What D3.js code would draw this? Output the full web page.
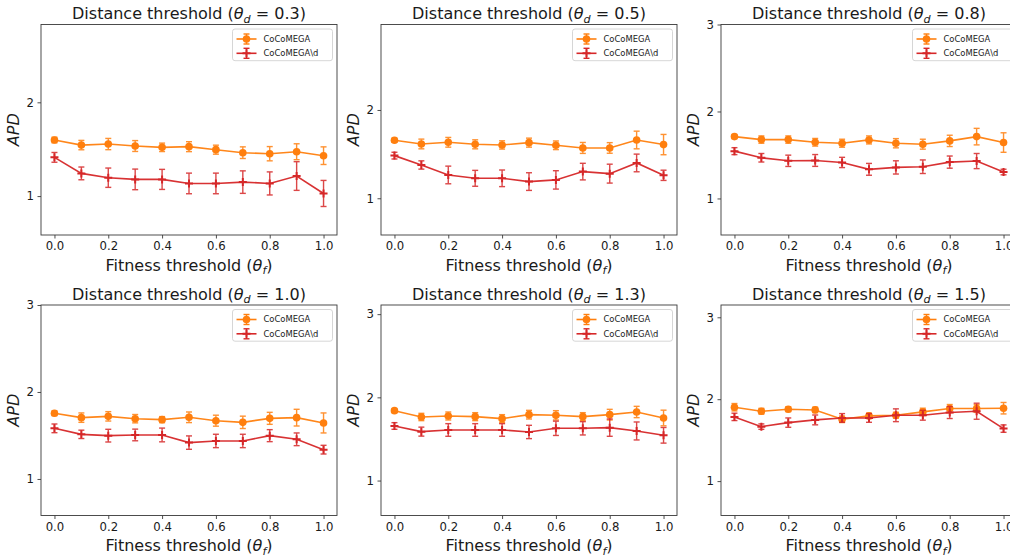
<!DOCTYPE html>
<html>
<head>
<meta charset="utf-8">
<script src="https://cdn.jsdelivr.net/npm/d3@7"></script>
<style>
  html, body { margin: 0; padding: 0; background: #fff; }
  svg { display: block; font-family: "DejaVu Sans", sans-serif; }
</style>
</head>
<body>
<script>
// ---------------- DATA ----------------
const fitnessThresholds = [0.0, 0.1, 0.2, 0.3, 0.4, 0.5, 0.6, 0.7, 0.8, 0.9, 1.0];
const xTickValues = [0.0, 0.2, 0.4, 0.6, 0.8, 1.0];
const yTickValues = [1, 2, 3];
const distanceThresholds = ["0.3", "0.5", "0.8", "1.0", "1.3", "1.5"];
const seriesNames = ["CoCoMEGA", "CoCoMEGA\\d"];
const yDomains = [[0.585, 2.83], [0.584, 2.968], [0.58, 3.0], [0.58, 3.0], [0.58, 3.11], [0.58, 3.15]];

// CoCoMEGA mean / error per panel
const cocomegaMean = [
  [1.598, 1.544, 1.555, 1.534, 1.520, 1.527, 1.495, 1.463, 1.452, 1.473, 1.431],
  [1.657, 1.615, 1.634, 1.611, 1.604, 1.630, 1.600, 1.570, 1.570, 1.660, 1.608],
  [1.711, 1.677, 1.677, 1.646, 1.635, 1.673, 1.635, 1.624, 1.662, 1.711, 1.643],
  [1.755, 1.705, 1.720, 1.693, 1.682, 1.709, 1.670, 1.651, 1.697, 1.705, 1.644],
  [1.840, 1.764, 1.776, 1.768, 1.744, 1.792, 1.784, 1.768, 1.792, 1.824, 1.752],
  [1.902, 1.853, 1.878, 1.869, 1.755, 1.796, 1.804, 1.845, 1.886, 1.886, 1.890]
];
const cocomegaErr = [
  [0.030, 0.050, 0.060, 0.058, 0.045, 0.053, 0.048, 0.062, 0.076, 0.085, 0.094],
  [0.023, 0.055, 0.055, 0.051, 0.047, 0.051, 0.049, 0.062, 0.060, 0.100, 0.115],
  [0.023, 0.042, 0.042, 0.044, 0.046, 0.046, 0.053, 0.057, 0.065, 0.095, 0.112],
  [0.027, 0.054, 0.054, 0.048, 0.035, 0.061, 0.063, 0.071, 0.069, 0.096, 0.115],
  [0.024, 0.044, 0.048, 0.048, 0.048, 0.052, 0.056, 0.048, 0.064, 0.068, 0.094],
  [0.045, 0.035, 0.030, 0.033, 0.040, 0.033, 0.037, 0.045, 0.049, 0.047, 0.070]
];
// CoCoMEGA\d mean / error per panel
const ablationMean = [
  [1.413, 1.242, 1.196, 1.178, 1.178, 1.135, 1.135, 1.149, 1.135, 1.214, 1.028],
  [1.483, 1.377, 1.264, 1.226, 1.226, 1.189, 1.208, 1.302, 1.279, 1.400, 1.260],
  [1.544, 1.468, 1.433, 1.437, 1.414, 1.335, 1.357, 1.365, 1.418, 1.430, 1.304],
  [1.582, 1.513, 1.498, 1.506, 1.506, 1.418, 1.437, 1.437, 1.498, 1.456, 1.337],
  [1.656, 1.588, 1.608, 1.608, 1.608, 1.584, 1.628, 1.628, 1.636, 1.596, 1.544],
  [1.784, 1.665, 1.714, 1.747, 1.771, 1.771, 1.804, 1.804, 1.837, 1.853, 1.641]
];
const ablationErr = [
  [0.052, 0.068, 0.103, 0.110, 0.107, 0.110, 0.110, 0.120, 0.123, 0.153, 0.139],
  [0.038, 0.047, 0.100, 0.090, 0.094, 0.100, 0.104, 0.094, 0.107, 0.100, 0.058],
  [0.040, 0.049, 0.065, 0.068, 0.059, 0.068, 0.076, 0.078, 0.070, 0.087, 0.032],
  [0.050, 0.048, 0.073, 0.067, 0.079, 0.077, 0.077, 0.077, 0.069, 0.073, 0.050],
  [0.040, 0.054, 0.076, 0.076, 0.076, 0.080, 0.086, 0.080, 0.104, 0.108, 0.094],
  [0.045, 0.033, 0.057, 0.060, 0.053, 0.053, 0.078, 0.060, 0.073, 0.098, 0.045]
];

// ---------------- LAYOUT ----------------
const colLeft = [41, 381, 721];
const rowTop = [24.5, 305];
const W = 296, H = 210.5;
const colors = ["#ff7f0e", "#d62728"];
const textColor = "#1a1a1a";
const spineColor = "#3a3a3a";

const svg = d3.select("body").append("svg").attr("width", 1010).attr("height", 559);

function mathLabel(sel, prefix, sym, sub, suffix, size) {
  sel.append("tspan").text(prefix);
  sel.append("tspan").attr("font-style", "italic").text(sym);
  sel.append("tspan").attr("font-style", "italic").attr("font-size", size * 0.7).attr("dy", size * 0.22).text(sub);
  sel.append("tspan").attr("dy", -size * 0.22).text(suffix);
}

function plusPath(cx, cy, r) {
  return `M${cx - r},${cy}H${cx + r}M${cx},${cy - r}V${cy + r}`;
}

distanceThresholds.forEach((td, i) => {
  const left = colLeft[i % 3], top = rowTop[Math.floor(i / 3)];
  const g = svg.append("g").attr("transform", `translate(${left},${top})`);
  const x = d3.scaleLinear().domain([-0.05, 1.05]).range([0, W]);
  const y = d3.scaleLinear().domain(yDomains[i]).range([H, 0]);

  // axes
  const xAxis = g.append("g").attr("transform", `translate(0,${H})`)
    .call(d3.axisBottom(x).tickValues(xTickValues).tickFormat(d3.format(".1f")).tickSize(3.5).tickPadding(3.5));
  const yAxis = g.append("g")
    .call(d3.axisLeft(y).tickValues(yTickValues.filter(v => v >= yDomains[i][0] && v <= yDomains[i][1]))
      .tickFormat(d3.format("d")).tickSize(3.5).tickPadding(3.5));
  [xAxis, yAxis].forEach(a => {
    a.select(".domain").remove();
    a.selectAll(".tick line").attr("stroke", spineColor).attr("stroke-width", 0.9);
    a.selectAll(".tick text").attr("fill", textColor).attr("font-size", 11.7).attr("font-family", "DejaVu Sans");
  });

  // series
  const seriesMeans = [cocomegaMean[i], ablationMean[i]];
  const seriesErrs = [cocomegaErr[i], ablationErr[i]];
  seriesMeans.forEach((means, s) => {
    const errs = seriesErrs[s];
    const col = colors[s];
    const pts = fitnessThresholds.map((fx, k) => ({ x: fx, m: means[k], e: errs[k] }));
    const sg = g.append("g");
    sg.append("path").datum(pts)
      .attr("fill", "none").attr("stroke", col).attr("stroke-width", 1.6).attr("opacity", 0.95)
      .attr("d", d3.line().x(d => x(d.x)).y(d => y(d.m)));
    const eb = sg.selectAll(".eb").data(pts).join("g").attr("stroke", col).attr("stroke-width", 1.4).attr("opacity", 0.85);
    eb.append("line").attr("x1", d => x(d.x)).attr("x2", d => x(d.x))
      .attr("y1", d => y(d.m - d.e)).attr("y2", d => y(d.m + d.e));
    eb.append("line").attr("x1", d => x(d.x) - 3).attr("x2", d => x(d.x) + 3)
      .attr("y1", d => y(d.m - d.e)).attr("y2", d => y(d.m - d.e));
    eb.append("line").attr("x1", d => x(d.x) - 3).attr("x2", d => x(d.x) + 3)
      .attr("y1", d => y(d.m + d.e)).attr("y2", d => y(d.m + d.e));
    if (s === 0) {
      sg.selectAll(".mk").data(pts).join("circle")
        .attr("cx", d => x(d.x)).attr("cy", d => y(d.m)).attr("r", 3.8).attr("fill", col);
    } else {
      sg.selectAll(".mk").data(pts).join("path")
        .attr("d", d => plusPath(x(d.x), y(d.m), 4)).attr("stroke", col).attr("stroke-width", 2).attr("fill", "none");
    }
  });

  // frame
  g.append("rect").attr("x", 0).attr("y", 0).attr("width", W).attr("height", H)
    .attr("fill", "none").attr("stroke", spineColor).attr("stroke-width", 0.9);

  // legend
  const lw = 100, lh = 31.7;
  const lx = W - 4.5 - lw, ly = 4.5;
  const lg = g.append("g").attr("transform", `translate(${lx},${ly})`);
  lg.append("rect").attr("width", lw).attr("height", lh).attr("rx", 2.5)
    .attr("fill", "#fff").attr("fill-opacity", 0.8).attr("stroke", "#cccccc").attr("stroke-width", 0.8);
  seriesNames.forEach((name, s) => {
    const ry = 10 + s * 14.3;
    const col = colors[s];
    lg.append("line").attr("x1", 4).attr("x2", 24).attr("y1", ry).attr("y2", ry)
      .attr("stroke", col).attr("stroke-width", 1.6);
    lg.append("line").attr("x1", 14).attr("x2", 14).attr("y1", ry - 5).attr("y2", ry + 5)
      .attr("stroke", col).attr("stroke-width", 1.4);
    lg.append("line").attr("x1", 11).attr("x2", 17).attr("y1", ry - 5).attr("y2", ry - 5)
      .attr("stroke", col).attr("stroke-width", 1.4);
    lg.append("line").attr("x1", 11).attr("x2", 17).attr("y1", ry + 5).attr("y2", ry + 5)
      .attr("stroke", col).attr("stroke-width", 1.4);
    if (s === 0) {
      lg.append("circle").attr("cx", 14).attr("cy", ry).attr("r", 3.8).attr("fill", col);
    } else {
      lg.append("path").attr("d", plusPath(14, ry, 4)).attr("stroke", col).attr("stroke-width", 2);
    }
    lg.append("text").attr("x", 31).attr("y", ry).attr("dy", "0.35em")
      .attr("font-size", 8.4).attr("fill", textColor).text(name);
  });

  // title
  const title = svg.append("text").attr("x", left + W / 2).attr("y", top - 5.5)
    .attr("text-anchor", "middle").attr("font-size", 16).attr("fill", textColor);
  mathLabel(title, "Distance threshold (", "θ", "d", " = " + td + ")", 16);

  // x label
  const xl = svg.append("text").attr("x", left + W / 2).attr("y", top + H + 35.5)
    .attr("text-anchor", "middle").attr("font-size", 16).attr("fill", textColor);
  mathLabel(xl, "Fitness threshold (", "θ", "f", ")", 16);

  // y label
  svg.append("text").attr("transform", `translate(${left - 22},${top + H / 2}) rotate(-90)`)
    .attr("text-anchor", "middle").attr("font-size", 16).attr("font-style", "italic")
    .attr("fill", textColor).text("APD");
});
</script>
</body>
</html>
